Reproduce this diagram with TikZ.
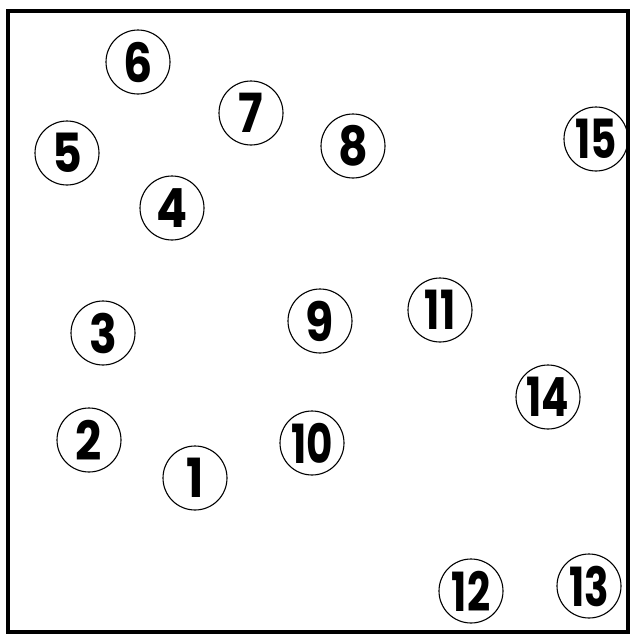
\documentclass[tikz,border=0pt]{standalone}
\usepackage{fontspec}
\setmainfont{Poppins}
\begin{document}
\begin{tikzpicture}[x=1pt,y=-1pt,
  num/.style={circle,draw,line width=1.1pt,minimum size=64pt,inner sep=0pt,
    font=\fontsize{54}{54}\selectfont\bfseries},
  frame/.style={line width=3.5pt}]
\useasboundingbox (0,0) rectangle (632,637);
\draw[frame] (8,11) rectangle (628,632);
\node[num] (n1) at (195,478) {\scalebox{0.85}[1]{1}};
\node[num] (n2) at (89,440) {\scalebox{0.85}[1]{2}};
\node[num] (n3) at (103,333) {\scalebox{0.85}[1]{3}};
\node[num] (n4) at (172,208) {\scalebox{0.85}[1]{4}};
\node[num] (n5) at (67,153) {\scalebox{0.85}[1]{5}};
\node[num] (n6) at (138,62) {\scalebox{0.85}[1]{6}};
\node[num] (n7) at (251,113) {\scalebox{0.85}[1]{7}};
\node[num] (n8) at (353,146) {\scalebox{0.85}[1]{8}};
\node[num] (n9) at (320,321) {\scalebox{0.85}[1]{9}};
\node[num] (n10) at (312,443) {\scalebox{0.75}[1]{10}};
\node[num] (n11) at (440,310) {\scalebox{0.75}[1]{11}};
\node[num] (n12) at (471,591) {\scalebox{0.75}[1]{12}};
\node[num] (n13) at (589,586) {\scalebox{0.75}[1]{13}};
\node[num] (n14) at (548,397) {\scalebox{0.75}[1]{14}};
\node[num] (n15) at (596,139) {\scalebox{0.75}[1]{15}};
\end{tikzpicture}
\end{document}
